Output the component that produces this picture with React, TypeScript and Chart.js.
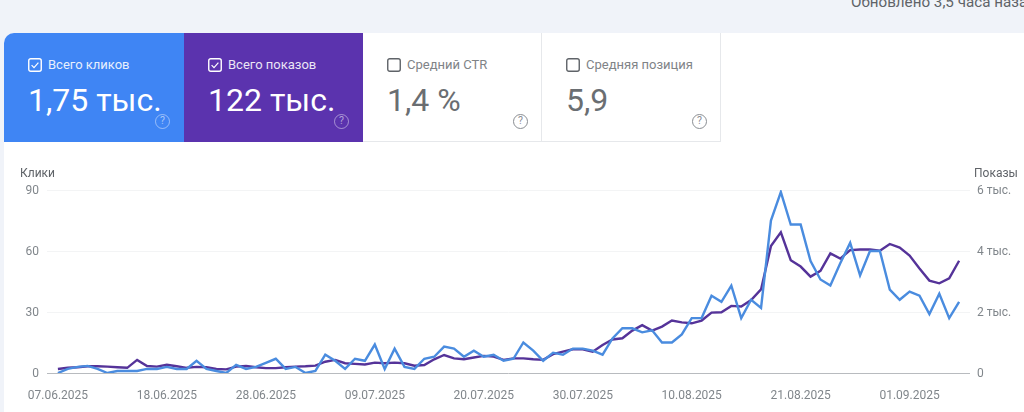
import React, { useEffect, useRef } from "react";
import { Chart, registerables } from "chart.js";

Chart.register(...registerables);

const tickIndices = [0, 11, 21, 32, 43, 53, 64, 75, 86];
const tickDates = ["07.06.2025", "18.06.2025", "28.06.2025", "09.07.2025", "20.07.2025", "30.07.2025", "10.08.2025", "21.08.2025", "01.09.2025"];

const clicks = [
  0, 2, 3, 3.5, 2, 0, 1, 1, 1, 2, 2, 3, 2, 2, 6, 2,
  1, 0, 4, 2, 3, 5, 7, 2, 3, 0, 1, 9, 6, 2, 7, 6,
  14, 2, 12, 3, 2, 7, 8, 13, 12, 8, 11, 8, 9, 6, 7, 15,
  11, 6, 10, 9, 12, 12, 11, 9, 17, 22, 22, 20, 21, 15, 15, 19,
  27, 27, 38, 35, 43, 27, 36, 32, 75, 89, 73, 73, 55, 46, 43, 54,
  64, 48, 60, 60, 41, 36, 40, 38, 29, 39, 27, 35,
];

const impressions = [
  130, 170, 190, 220, 220, 210, 190, 170, 430, 230, 210, 270, 220, 170, 200, 190,
  130, 120, 210, 230, 190, 160, 160, 190, 210, 220, 240, 370, 430, 320, 300, 280,
  340, 320, 340, 320, 240, 260, 450, 590, 480, 450, 510, 560, 540, 430, 480, 480,
  450, 430, 620, 700, 780, 780, 700, 920, 1100, 1140, 1390, 1570, 1390, 1520, 1720, 1660,
  1630, 1720, 1980, 1990, 2200, 2180, 2390, 2740, 4160, 4610, 3700, 3490, 3160, 3350, 3920, 3750,
  4030, 4050, 4050, 4010, 4230, 4110, 3850, 3430, 3030, 2940, 3100, 3680,
];

const leftMax = 90;
const rightMax = 6000;
const cards = [
  { label: "Всего кликов", value: "1,75 тыс.", left: 4, width: 180, bg: "#3f85f4", fg: "#fff", on: true },
  { label: "Всего показов", value: "122 тыс.", left: 184, width: 179, bg: "#5b33ae", fg: "#fff", on: true },
  { label: "Средний CTR", value: "1,4 %", left: 363, width: 179, bg: "#fff", fg: "#6a6e72", on: false },
  { label: "Средняя позиция", value: "5,9", left: 542, width: 179, bg: "#fff", fg: "#6a6e72", on: false },
];

const FONT = "Roboto, sans-serif";
// A two-line tick with a tiny line height moves the label down by one pixel, as in the reference.
const tickFont = { family: FONT, size: 12, lineHeight: 2 / 12 };

export default function App() {
  const ref = useRef<HTMLCanvasElement | null>(null);

  useEffect(() => {
    const chart = new Chart(ref.current as HTMLCanvasElement, {
      type: "line",
      data: {
        datasets: [
          {
            label: "Клики",
            yAxisID: "yL",
            data: clicks.map((y, x) => ({ x, y })),
            borderColor: "#4a8cdf",
            borderWidth: 2.4,
            pointRadius: 0,
            tension: 0,
          },
          {
            label: "Показы",
            yAxisID: "yR",
            data: impressions.map((y, x) => ({ x, y })),
            borderColor: "#553399",
            borderWidth: 2.4,
            pointRadius: 0,
            tension: 0,
          },
        ],
      },
      options: {
        animation: false,
        responsive: false,
        parsing: false,
        normalized: true,
        layout: { padding: { top: 190, left: 0, right: 0, bottom: 0 } },
        plugins: { legend: { display: false }, tooltip: { enabled: false } },
        scales: {
          x: {
            type: "linear",
            min: -1.1,
            max: 92.1,
            afterBuildTicks: (s: any) => {
              s.ticks = tickIndices.map((value) => ({ value }));
            },
            afterFit: (s: any) => {
              s.height = 39;
            },
            grid: { display: false },
            border: { display: false },
            ticks: {
              autoSkip: false,
              maxRotation: 0,
              padding: 8,
              color: "#80868b",
              font: { family: FONT, size: 12 },
              callback: (v: any) => tickDates[tickIndices.indexOf(Number(v))] ?? "",
            },
          },
          yL: {
            position: "left",
            min: 0,
            max: leftMax,
            afterFit: (s: any) => {
              s.width = 47;
            },
            border: { display: false },
            grid: {
              drawTicks: false,
              lineWidth: 1,
              color: (c: any) => (c.tick.value === 0 ? "#b8bbbf" : "#f3f4f5"),
            },
            ticks: {
              stepSize: 30,
              padding: 8,
              color: "#80868b",
              font: tickFont,
              callback: (v: any) => ["", String(v)],
            },
          },
          yR: {
            position: "right",
            min: 0,
            max: rightMax,
            afterFit: (s: any) => {
              s.width = 54;
            },
            border: { display: false },
            grid: { display: false, drawTicks: false },
            ticks: {
              stepSize: 2000,
              padding: 7,
              color: "#80868b",
              font: tickFont,
              callback: (v: any) => ["", Number(v) === 0 ? "0" : `${Number(v) / 1000} тыс.`],
            },
          },
        },
      },
    } as any);
    return () => chart.destroy();
  }, []);

  return (
    <div style={{ position: "fixed", left: 0, top: 0, width: 1024, height: 412, overflow: "hidden", background: "#f0f3f9", fontFamily: FONT }}>
      <div style={{ position: "absolute", left: 851, top: -6, whiteSpace: "nowrap", fontSize: 15.2, lineHeight: "16px", color: "#5f6368" }}>
        Обновлено 3,5 часа назад
      </div>
      <div style={{ position: "absolute", left: 4, top: 33, width: 1020, height: 379, background: "#fff", borderTopLeftRadius: 10 }} />
      {cards.map((c) => (
        <div
          key={c.label}
          style={{
            position: "absolute",
            left: c.left,
            top: 33,
            width: c.width,
            height: 109,
            background: c.bg,
            color: c.fg,
            boxSizing: "border-box",
            borderTopLeftRadius: c.left === 4 ? 10 : 0,
            borderRight: c.on ? "none" : "1px solid #e6e8eb",
            borderBottom: c.on ? "none" : "1px solid #e6e8eb",
          }}
        >
          <svg style={{ position: "absolute", left: 24, top: 25 }} width={14} height={14} viewBox="0 0 14 14">
            <rect x={0.75} y={0.75} width={12.5} height={12.5} rx={2} fill="none" stroke={c.on ? "#fff" : "#5f6368"} strokeWidth={1.4} />
            {c.on && <path d="M3.6 7.2 L6 9.6 L10.4 4.6" fill="none" stroke="#fff" strokeWidth={1.2} />}
          </svg>
          <div style={{ position: "absolute", left: 44, top: 24, fontSize: 13, lineHeight: "16px", whiteSpace: "nowrap", opacity: c.on ? 0.88 : 0.85 }}>{c.label}</div>
          <div style={{ position: "absolute", left: 24, top: 47, fontSize: 32, lineHeight: "40px", fontWeight: 400, whiteSpace: "nowrap" }}>{c.value}</div>
          <div
            style={{
              position: "absolute",
              left: c.width - 29,
              top: 81,
              width: 15,
              height: 15,
              boxSizing: "border-box",
              border: `1.5px solid ${c.on ? "rgba(255,255,255,0.45)" : "#8a8e93"}`,
              borderRadius: "50%",
              fontSize: 10.5,
              lineHeight: "12px",
              textAlign: "center",
              color: c.on ? "rgba(255,255,255,0.55)" : "#8a8e93",
            }}
          >
            ?
          </div>
        </div>
      ))}
      <canvas ref={ref} width={1024} height={412} style={{ position: "absolute", left: 0, top: 0, width: 1024, height: 412 }} />
      <div style={{ position: "absolute", left: 20, top: 165, fontSize: 12, lineHeight: "16px", color: "#5f6368" }}>Клики</div>
      <div style={{ position: "absolute", left: 974, top: 165, fontSize: 12, lineHeight: "16px", color: "#5f6368" }}>Показы</div>
    </div>
  );
}
